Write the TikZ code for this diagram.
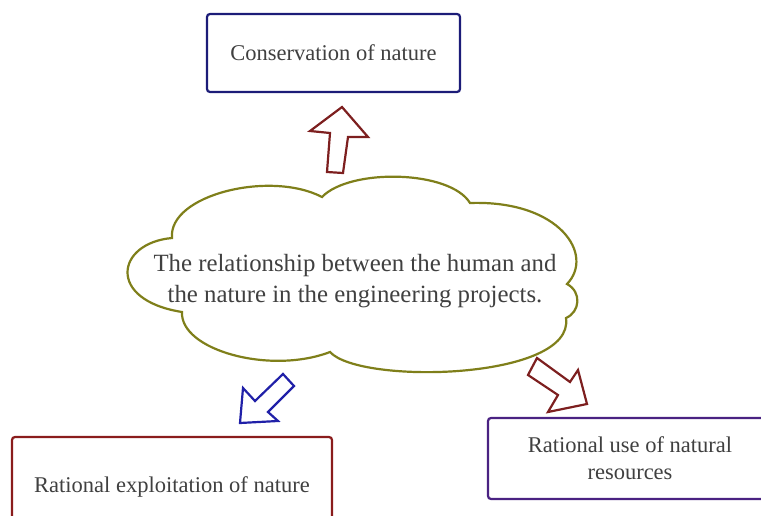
\documentclass[tikz,border=0pt]{standalone}
\usepackage{fontspec}
\setmainfont{Liberation Serif}
\definecolor{navyb}{HTML}{1C1C78}
\definecolor{redb}{HTML}{8A1C1C}
\definecolor{purpb}{HTML}{4A2282}
\definecolor{olivec}{HTML}{7F7F1A}
\definecolor{arrred}{HTML}{7D1F1F}
\definecolor{arrblue}{HTML}{2020A8}
\definecolor{txt}{HTML}{404040}
\begin{document}
\begin{tikzpicture}[x=1pt,y=-1pt,
  box/.style={draw, line width=2.2pt, rounded corners=3pt, fill=white, text=txt, align=center, inner sep=0pt},
  boxfont/.style={font=\fontsize{22.5}{27}\selectfont},
  blockarrow/.style={line width=2.2pt, fill=white, line join=miter}]
\useasboundingbox (0,0) rectangle (761,516);
\clip (0,0) rectangle (761,516);
% boxes
\node[box, boxfont, draw=navyb, minimum width=253, minimum height=78] (cons) at (333.5,53) {\raisebox{-2pt}{Conservation of nature}};
\node[box, boxfont, draw=redb, minimum width=320, minimum height=100] (expl) at (172,487) {Rational exploitation of nature};
\node[box, boxfont, draw=purpb, minimum width=284, minimum height=81] (use) at (630,458.5) {Rational use of natural\\resources};
% cloud
\draw[olivec, line width=2.2pt, fill=white]
  (172,238) .. controls (168,195) and (270,170) .. (322,197)
  .. controls (350,168) and (450,170) .. (470,203)
  .. controls (560,200) and (595,255) .. (567,284)
  .. controls (582,292) and (580,312) .. (566,318)
  .. controls (575,380) and (360,385) .. (330,352)
  .. controls (270,375) and (180,350) .. (182,312)
  .. controls (106,300) and (116,243) .. (172,238) -- cycle;
\node[text=txt, align=center, inner sep=0pt, font=\fontsize{24.8}{31}\selectfont] (rel) at (355,281)
  {The relationship between the human and\\the nature in the engineering projects.};
% block arrows
\draw[blockarrow, draw=arrred] (327,172) -- (330,133) -- (310,131) -- (342,107) -- (368,137) -- (348,137) -- (343,173) -- cycle;
\draw[blockarrow, draw=arrblue] (240,423) -- (243,388) -- (255,401) -- (283,374) -- (294,386) -- (268,412) -- (278,421) -- cycle;
\draw[blockarrow, draw=arrred] (537,358) -- (528,375) -- (558,395) -- (548,412) -- (587,404) -- (578,370) -- (570,382) -- cycle;
\end{tikzpicture}
\end{document}
